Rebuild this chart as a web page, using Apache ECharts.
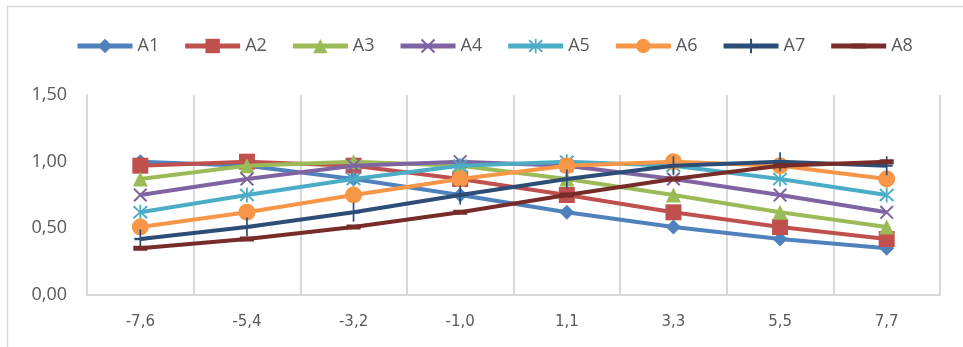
<!DOCTYPE html>
<html>
<head>
<meta charset="utf-8">
<script src="https://cdn.jsdelivr.net/npm/echarts@6/dist/echarts.min.js"></script>
<style>html,body{margin:0;padding:0;background:#fff;}#c{width:963px;height:347px;}</style>
</head>
<body>
<div id="c"></div>
<script>
var categories = ['-7,6', '-5,4', '-3,2', '-1,0', '1,1', '3,3', '5,5', '7,7'];
var seriesNames = ['A1', 'A2', 'A3', 'A4', 'A5', 'A6', 'A7', 'A8'];
var A1 = [1.00, 0.97, 0.87, 0.75, 0.62, 0.51, 0.42, 0.35];
var A2 = [0.97, 1.00, 0.97, 0.87, 0.75, 0.62, 0.51, 0.42];
var A3 = [0.87, 0.97, 1.00, 0.97, 0.87, 0.75, 0.62, 0.51];
var A4 = [0.75, 0.87, 0.97, 1.00, 0.97, 0.87, 0.75, 0.62];
var A5 = [0.62, 0.75, 0.87, 0.97, 1.00, 0.97, 0.87, 0.75];
var A6 = [0.51, 0.62, 0.75, 0.87, 0.97, 1.00, 0.97, 0.87];
var A7 = [0.42, 0.51, 0.62, 0.75, 0.87, 0.97, 1.00, 0.97];
var A8 = [0.35, 0.42, 0.51, 0.62, 0.75, 0.87, 0.97, 1.00];
var yTicks = ['0,00', '0,50', '1,00', '1,50'];

var data = [A1, A2, A3, A4, A5, A6, A7, A8];
var colors = ['#4F81BD', '#C0504D', '#9BBB59', '#8064A2', '#4BACC6', '#F79646', '#2C4D75', '#772C2A'];
var xPath = 'path://M0,1 L1,0 L5,4 L9,0 L10,1 L6,5 L10,9 L9,10 L5,6 L1,10 L0,9 L4,5 Z';
var starPath = 'path://M0,1.5 L1,0.5 L5,4.5 L9,0.5 L10,1.5 L6,5 L10,8.5 L9,9.5 L5,5.5 L1,9.5 L0,8.5 L4,5 Z M4.4,0 L5.6,0 L5.6,10 L4.4,10 Z';
var plusPath = 'path://M4.3,0 L5.7,0 L5.7,4.4 L10,4.4 L10,5.6 L5.7,5.6 L5.7,10 L4.3,10 L4.3,5.6 L0,5.6 L0,4.4 L4.3,4.4 Z';
var dashPath = 'path://M0,0 L0.02,0 L0.02,0.02 Z M0,3.2 L10,3.2 L10,6.8 L0,6.8 Z M9.98,10 L10,10 L10,9.98 Z';
var symbols = ['diamond', 'rect', 'triangle', xPath, starPath, 'circle', plusPath, dashPath];
var sizes = [15, 16, 15, 14, 15, 17, [12, 19], 14];

var chart = echarts.init(document.getElementById('c'), null, {renderer: 'canvas'});
var series = seriesNames.map(function (n, i) {
  return {
    name: n,
    type: 'line',
    data: data[i],
    symbol: symbols[i],
    symbolSize: sizes[i],
    showAllSymbol: true,
    lineStyle: {width: 4, color: colors[i]},
    itemStyle: {color: colors[i]},
    z: 2 + i
  };
});
chart.setOption({
  animation: false,
  backgroundColor: '#fff',
  color: colors,
  graphic: [{
    type: 'rect',
    shape: {x: 7.5, y: 6.5, width: 1000, height: 400},
    style: {fill: 'none', stroke: '#D9D9D9', lineWidth: 1.5},
    silent: true,
    z: -1
  }],
  legend: {
    top: 32,
    left: 70,
    itemWidth: 55,
    itemHeight: 18,
    itemGap: 23.5,
    lineStyle: {width: 5},
    textStyle: {fontFamily: 'Open Sans', fontSize: 18, color: '#595959'},
    data: seriesNames
  },
  grid: {left: 87, right: 23, top: 95, bottom: 52, containLabel: false},
  xAxis: {
    type: 'category',
    data: categories,
    boundaryGap: true,
    axisLine: {show: true, lineStyle: {color: '#D9D9D9', width: 2}},
    axisTick: {show: false},
    splitLine: {show: true, lineStyle: {color: '#D9D9D9', width: 2}},
    axisLabel: {fontFamily: 'DejaVu Sans', fontSize: 15, color: '#595959', margin: 20}
  },
  yAxis: {
    type: 'value',
    min: 0,
    max: 1.5,
    interval: 0.5,
    axisLine: {show: true, lineStyle: {color: '#D9D9D9', width: 2}},
    axisTick: {show: false},
    splitLine: {show: false},
    axisLabel: {
      fontFamily: 'Open Sans', fontSize: 18, color: '#595959', margin: 20,
      formatter: function (v) { return yTicks[Math.round(v / 0.5)]; }
    }
  },
  series: series
});
</script>
</body>
</html>
